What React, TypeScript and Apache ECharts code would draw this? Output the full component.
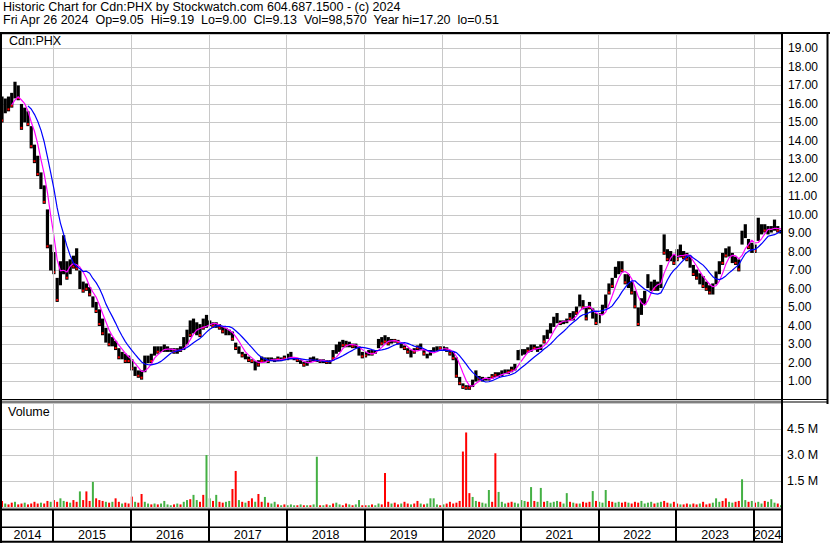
import React, { useEffect, useRef } from "react";
import * as echarts from "echarts";

// ---- time base: semi-monthly points, fractional years ----
const START = 2014.345;
const PER_YEAR = 24;
const yearStarts = [2015, 2016, 2017, 2018, 2019, 2020, 2021, 2022, 2023, 2024];
const yearLabels = ["2014", "2015", "2016", "2017", "2018", "2019", "2020", "2021", "2022", "2023", "2024"];

// ---- price highs / lows (per half month) ----
const hi = [
  16.4, 16.3, 16.4, 16.6, 17.2, 17.0, 16.0, 15.8, 15.6, 14.8,
  13.8, 13.2, 12.3, 11.6, 10.3, 8.4, 8.0, 6.6, 7.5, 8.9,
  7.5, 7.6, 7.8, 8.2, 7.0, 6.4, 6.3, 6.1, 5.6, 5.3,
  4.9, 4.4, 3.9, 3.6, 3.4, 3.2, 2.8, 2.6, 2.5, 2.4,
  2.2, 1.8, 1.6, 1.6, 2.4, 2.4, 2.5, 2.9, 2.9, 2.9,
  3.0, 2.9, 2.8, 2.8, 2.8, 2.9, 3.4, 3.8, 4.3, 4.4,
  4.2, 4.1, 4.4, 4.6, 4.3, 4.2, 4.2, 4.1, 4.0, 3.9,
  3.8, 3.7, 3.1, 2.9, 2.6, 2.5, 2.35, 2.2, 2.1, 2.15,
  2.35, 2.3, 2.3, 2.3, 2.25, 2.35, 2.3, 2.4, 2.5, 2.6,
  2.3, 2.25, 2.15, 2.05, 2.1, 2.3, 2.35, 2.25, 2.2, 2.2,
  2.15, 2.15, 2.7, 3.0, 3.15, 3.25, 3.2, 3.15, 3.05, 3.05,
  2.9, 2.6, 2.6, 2.7, 2.7, 2.7, 3.3, 3.4, 3.5, 3.4,
  3.3, 3.3, 3.25, 3.05, 2.95, 2.8, 2.7, 2.8, 2.95, 3.05,
  2.7, 2.5, 2.7, 2.85, 2.9, 2.9, 2.9, 2.85, 2.7, 2.6,
  2.3, 1.25, 0.9, 0.8, 0.8, 1.1, 1.6, 1.3, 1.25, 1.2,
  1.25, 1.4, 1.5, 1.5, 1.6, 1.65, 1.65, 1.8, 1.95, 2.7,
  2.75, 2.75, 2.85, 3.0, 3.0, 2.9, 3.0, 3.5, 3.8, 4.15,
  4.5, 4.7, 4.3, 4.3, 4.4, 4.7, 4.8, 5.05, 5.7, 5.4,
  5.05, 5.3, 4.95, 4.7, 4.7, 5.15, 5.7, 6.3, 6.6, 7.2,
  7.5, 7.5, 6.8, 6.8, 6.4, 5.9, 5.0, 5.5, 5.9, 6.8,
  6.4, 6.5, 6.4, 7.3, 8.95, 8.15, 8.05, 7.85, 8.15, 8.4,
  8.05, 7.95, 7.8, 7.3, 7.05, 6.85, 6.7, 6.4, 6.2, 6.3,
  6.95, 7.5, 7.95, 8.2, 8.3, 7.95, 7.75, 7.6, 9.15, 9.5,
  8.7, 8.5, 8.4, 9.85, 9.5, 9.5, 9.4, 9.4, 9.75, 9.4,
  9.19,
];
const lo = [
  15.0, 15.5, 15.6, 15.8, 16.3, 16.2, 14.6, 15.0, 14.8, 13.6,
  12.8, 12.1, 11.4, 10.6, 8.2, 7.0, 6.8, 5.3, 6.2, 6.8,
  6.5, 6.8, 7.1, 7.0, 6.0, 5.8, 5.9, 5.6, 5.0, 4.7,
  4.0, 3.5, 3.1, 2.9, 2.9, 2.7, 2.2, 2.2, 2.0, 2.0,
  1.6, 1.3, 1.2, 1.1, 1.5, 2.0, 2.0, 2.4, 2.5, 2.6,
  2.6, 2.6, 2.6, 2.5, 2.5, 2.6, 2.7, 3.0, 3.4, 3.6,
  3.5, 3.4, 3.8, 3.9, 4.0, 3.9, 3.9, 3.8, 3.6, 3.5,
  3.5, 3.2, 2.7, 2.5, 2.3, 2.2, 2.05, 2.0, 1.6, 1.8,
  2.0, 2.05, 2.0, 2.1, 2.05, 2.1, 2.1, 2.15, 2.15, 2.2,
  2.15, 2.05, 1.95, 1.8, 1.85, 2.05, 2.1, 2.05, 2.0, 2.0,
  1.95, 1.95, 2.15, 2.5, 2.6, 2.85, 2.85, 2.85, 2.8, 2.8,
  2.4, 2.25, 2.3, 2.4, 2.4, 2.5, 2.8, 2.95, 3.05, 2.95,
  3.05, 3.1, 3.0, 2.8, 2.7, 2.5, 2.3, 2.5, 2.7, 2.7,
  2.4, 2.25, 2.4, 2.6, 2.65, 2.7, 2.65, 2.6, 2.4, 2.15,
  1.2, 0.8, 0.6, 0.55, 0.55, 0.7, 1.0, 1.05, 1.0, 1.05,
  1.05, 1.15, 1.25, 1.25, 1.3, 1.4, 1.4, 1.5, 1.6, 2.15,
  2.4, 2.45, 2.55, 2.6, 2.7, 2.6, 2.7, 3.05, 3.3, 3.6,
  3.95, 4.15, 4.05, 4.1, 4.15, 4.3, 4.3, 4.6, 5.05, 4.9,
  4.3, 4.9, 4.4, 4.05, 4.15, 4.6, 4.95, 5.7, 6.05, 6.6,
  6.8, 6.9, 6.25, 6.05, 5.7, 4.95, 4.0, 4.6, 5.15, 6.05,
  5.9, 5.9, 5.9, 6.05, 7.85, 7.5, 7.5, 7.3, 7.5, 7.7,
  7.6, 7.5, 7.15, 6.7, 6.5, 6.25, 6.05, 5.9, 5.7, 5.7,
  6.25, 6.8, 7.3, 7.7, 7.75, 7.4, 7.3, 6.95, 8.4, 8.75,
  8.15, 7.95, 7.95, 8.6, 8.95, 9.05, 8.95, 9.05, 9.15, 9.05,
  9.0,
];

// ---- volume (millions of shares) and up/down colour per half month ----
const volM = [
  0.35, 0.2, 0.15, 0.25, 0.3, 0.15, 0.2, 0.25, 0.15, 0.2,
  0.3, 0.2, 0.25, 0.2, 0.35, 0.3, 0.4, 0.3, 0.5, 0.35,
  0.3, 0.25, 0.4, 0.3, 0.9, 0.4, 0.9, 0.35, 1.45, 0.5,
  0.4, 0.35, 0.3, 0.25, 0.3, 0.5, 0.3, 0.2, 0.25, 0.2,
  0.6, 0.3, 0.25, 0.75, 0.3, 0.2, 0.15, 0.2, 0.15, 0.2,
  0.35, 0.15, 0.1, 0.15, 0.2, 0.15, 0.3, 0.4, 0.45, 0.7,
  0.4, 0.3, 0.7, 3.0, 0.5, 0.35, 0.7, 0.3, 0.25, 0.3,
  0.35, 1.04, 2.08, 0.4, 0.3, 0.25, 0.35, 0.5, 0.3, 0.75,
  0.3, 0.58, 0.25, 0.2, 0.3, 0.15, 0.1, 0.15, 0.1, 0.15,
  0.1, 0.1, 0.15, 0.1, 0.1, 0.1, 0.15, 2.9, 0.1, 0.1,
  0.15, 0.1, 0.2, 0.25, 0.15, 0.1, 0.2, 0.15, 0.1, 0.15,
  0.4, 0.1, 0.1, 0.1, 0.15, 0.1, 0.2, 0.15, 1.96, 0.3,
  0.2, 0.25, 0.15, 0.2, 0.3, 0.2, 0.15, 0.2, 0.35, 0.2,
  0.15, 0.2, 0.5, 0.5, 0.15, 0.1, 0.15, 0.2, 0.3, 0.2,
  0.25, 0.35, 3.2, 4.3, 0.8, 0.58, 0.35, 0.3, 0.25, 0.2,
  0.98, 0.3, 3.1, 0.87, 0.3, 0.2, 0.25, 0.3, 0.25, 0.2,
  0.4, 0.35, 0.3, 1.15, 0.35, 0.3, 1.1, 0.3, 0.35, 0.25,
  0.3, 0.35, 0.3, 0.2, 0.8, 0.3, 0.25, 0.2, 0.2, 0.3,
  0.25, 0.3, 0.92, 0.35, 0.3, 0.25, 0.98, 0.35, 0.3, 0.25,
  0.3, 0.25, 0.3, 0.25, 0.2, 0.3, 0.25, 0.35, 0.2, 0.25,
  0.3, 0.2, 0.25, 0.3, 0.35, 0.25, 0.2, 0.3, 0.2, 0.15,
  0.15, 0.2, 0.15, 0.2, 0.15, 0.2, 0.3, 0.15, 0.2, 0.25,
  0.5, 0.3, 0.35, 0.5, 0.3, 0.25, 0.3, 0.35, 1.6, 0.4,
  0.3, 0.35, 0.25, 0.3, 0.2, 0.35, 0.3, 0.45, 0.25, 0.2,
  0.1,
];
const volDir =
  "rgrrgrrgrr" + "rrgrrgrrgg" + "rgrrgrrrgr" + "rrgrgrrgrr" + "rgrrggrgrg" +
  "gggrgrggrg" + "grrggrgrrg" + "grrgrgrrgr" + "rgrggrgrgg" + "grgrgrggrg" +
  "rgrggrrgrg" + "grrgrggrrr" + "grrgrrgrrg" + "rggggrgrrr" + "rrrrrggrgg" +
  "grrgggrrgg" + "ggrgrggrgg" + "ggrggrgrgr" + "rrgrgggrrg" + "grrgrrrggg" +
  "grggrrgrrg" + "rrgrrgrrrg" + "ggrrggrrgg" + "rgrggrgggr" + "g";

const volTicks = [1.5, 3.0, 4.5];

const TITLE1 = "Historic Chart for Cdn:PHX by Stockwatch.com 604.687.1500 - (c) 2024";
const TITLE2 = "Fri Apr 26 2024  Op=9.05  Hi=9.19  Lo=9.00  Cl=9.13  Vol=98,570  Year hi=17.20  lo=0.51";

const FONT = "Liberation Sans, Arial, sans-serif";

function sma(arr: number[], n: number): (number | null)[] {
  return arr.map((_, i) => {
    if (i < n - 1) return null;
    let s = 0;
    for (let k = i - n + 1; k <= i; k++) s += arr[k];
    return s / n;
  });
}

function buildOption() {
  const N = hi.length;
  const times = hi.map((_, i) => START + i / PER_YEAR);
  const END = times[N - 1];
  const mid = hi.map((h, i) => (h + lo[i]) / 2);
  const maFast = sma(mid, 4);
  const maSlow = sma(mid, 9);

  const edges = [START, ...yearStarts, END];
  const yearMids = yearLabels.map((_, i) => (edges[i] + edges[i + 1]) / 2);

  const vLines = (color: string, width: number) => ({
    silent: true,
    symbol: ["none", "none"],
    label: { show: false },
    emphasis: { disabled: true },
    lineStyle: { color, width, type: "solid" },
    data: yearStarts.map((y) => ({ xAxis: y })),
  });

  const xBase = (gi: number) => ({
    gridIndex: gi,
    type: "value",
    min: START,
    max: END,
    show: gi === 2,
    axisLine: { show: false },
    axisTick: { show: false },
    splitLine: { show: false },
  });

  const black = { fill: "#000" };
  const frame = [
    { type: "rect", shape: { x: 0, y: 32, width: 830, height: 2 }, style: black },
    { type: "rect", shape: { x: 0, y: 32, width: 2, height: 511 }, style: black },
    { type: "rect", shape: { x: 781, y: 32, width: 2, height: 511 }, style: black },
    { type: "rect", shape: { x: 826.5, y: 32, width: 2, height: 372 }, style: black },
    { type: "rect", shape: { x: 0, y: 399, width: 828, height: 1 }, style: black },
    { type: "rect", shape: { x: 0, y: 401.5, width: 828, height: 1 }, style: black },
    { type: "rect", shape: { x: 0, y: 508.5, width: 783, height: 2 }, style: black },
    { type: "rect", shape: { x: 0, y: 526.5, width: 783, height: 1.5 }, style: black },
    { type: "rect", shape: { x: 0, y: 540.8, width: 783, height: 2 }, style: black },
  ].map((g) => ({ ...g, silent: true, z: 100 }));

  const texts = [
    { x: 3, y: 0.5, text: TITLE1, size: 12.5 },
    { x: 3, y: 13.5, text: TITLE2, size: 12.5 },
    { x: 9, y: 34.5, text: "Cdn:PHX", size: 12.5 },
    { x: 8, y: 405.5, text: "Volume", size: 12.5 },
  ].map((t) => ({
    type: "text",
    x: t.x,
    y: t.y,
    z: 101,
    silent: true,
    style: { text: t.text, fill: "#000", fontSize: t.size, fontFamily: FONT, verticalAlign: "top", align: "left" },
  }));

  return {
    animation: false,
    backgroundColor: "#fff",
    textStyle: { fontFamily: FONT },
    grid: [
      { left: 2, top: 34, width: 779, height: 366 },
      { left: 2, top: 403, width: 779, height: 104 },
      { left: 2, top: 510, width: 779, height: 31 },
    ],
    xAxis: [
      xBase(0),
      xBase(1),
      {
        ...xBase(2),
        axisLabel: {
          show: true,
          inside: true,
          margin: 0,
          customValues: yearMids,
          color: "#000",
          fontSize: 12.5,
          fontFamily: FONT,
          verticalAlign: "bottom",
          formatter: (v: number) => {
            const k = yearMids.findIndex((m) => Math.abs(m - v) < 1e-6);
            return k >= 0 ? yearLabels[k] : "";
          },
        },
      },
    ],
    yAxis: [
      {
        gridIndex: 0,
        type: "value",
        position: "right",
        min: 0,
        max: 19.78,
        interval: 1,
        axisLine: { show: false },
        axisTick: { show: false },
        splitLine: { show: true, lineStyle: { color: "#c8c8c8", width: 1 } },
        axisLabel: {
          margin: 7,
          color: "#000",
          fontSize: 12,
          fontFamily: FONT,
          formatter: (v: number) =>
            v > 0 && Math.abs(v - Math.round(v)) < 1e-6 ? v.toFixed(2) : "",
        },
      },
      {
        gridIndex: 1,
        type: "value",
        position: "right",
        min: 0,
        max: 6,
        interval: 1.5,
        axisLine: { show: false },
        axisTick: { show: false },
        splitLine: { show: true, lineStyle: { color: "#c8c8c8", width: 1 } },
        axisLabel: {
          margin: 6,
          color: "#000",
          fontSize: 12.5,
          fontFamily: FONT,
          formatter: (v: number) =>
            volTicks.some((t) => Math.abs(t - v) < 1e-6) ? v.toFixed(1) + " M" : "",
        },
      },
      { gridIndex: 2, type: "value", min: 0, max: 1, show: false },
    ],
    series: [
      {
        type: "line",
        xAxisIndex: 0,
        yAxisIndex: 0,
        data: [[START, 0]],
        symbol: "none",
        lineStyle: { opacity: 0 },
        z: 1,
        markLine: vLines("#c8c8c8", 1),
      },
      {
        type: "custom",
        name: "price",
        xAxisIndex: 0,
        yAxisIndex: 0,
        z: 3,
        encode: { x: 0, y: [1, 2] },
        data: times.map((t, i) => [t, lo[i], hi[i], volDir[i] === "r" ? 1 : 0]),
        renderItem: (params: any, api: any) => {
          const t = api.value(0);
          const pHi = api.coord([t, api.value(2)]);
          const pLo = api.coord([t, api.value(1)]);
          const children: any[] = [
            {
              type: "rect",
              shape: { x: pHi[0] - 1.6, y: pHi[1], width: 3.2, height: Math.max(1, pLo[1] - pHi[1]) },
              style: { fill: "#000" },
            },
          ];
          if (api.value(3) === 1) {
            children.push({
              type: "rect",
              shape: { x: pLo[0] - 1, y: pLo[1] - 3, width: 2, height: 2 },
              style: { fill: "#ff0000" },
            });
          }
          return { type: "group", children };
        },
      },
      {
        type: "line",
        name: "ma-fast",
        xAxisIndex: 0,
        yAxisIndex: 0,
        z: 4,
        symbol: "none",
        data: times.map((t, i) => [t, maFast[i]]),
        lineStyle: { color: "#ff00ff", width: 1.2 },
      },
      {
        type: "line",
        name: "ma-slow",
        xAxisIndex: 0,
        yAxisIndex: 0,
        z: 5,
        symbol: "none",
        data: times.map((t, i) => [t, maSlow[i]]),
        lineStyle: { color: "#0000ff", width: 1.2 },
      },
      {
        type: "line",
        xAxisIndex: 1,
        yAxisIndex: 1,
        data: [[START, 0]],
        symbol: "none",
        lineStyle: { opacity: 0 },
        z: 1,
        markLine: vLines("#c8c8c8", 1),
      },
      {
        type: "bar",
        name: "volume",
        xAxisIndex: 1,
        yAxisIndex: 1,
        z: 3,
        barWidth: 2,
        data: times.map((t, i) => ({
          value: [t, volM[i]],
          itemStyle: { color: volDir[i] === "r" ? "#ff0000" : "#44b044" },
        })),
      },
      {
        type: "line",
        xAxisIndex: 2,
        yAxisIndex: 2,
        data: [[START, -1]],
        symbol: "none",
        lineStyle: { opacity: 0 },
        z: 2,
        markLine: vLines("#000", 2),
      },
    ],
    graphic: [...frame, ...texts],
  };
}

export default function App() {
  const ref = useRef<HTMLDivElement>(null);
  useEffect(() => {
    if (!ref.current) return;
    const chart = echarts.init(ref.current, null, { renderer: "svg" });
    chart.setOption(buildOption() as any);
    return () => chart.dispose();
  }, []);
  return (
    <div
      ref={ref}
      style={{ position: "fixed", left: 0, top: 0, width: 830, height: 543, background: "#fff" }}
    />
  );
}
